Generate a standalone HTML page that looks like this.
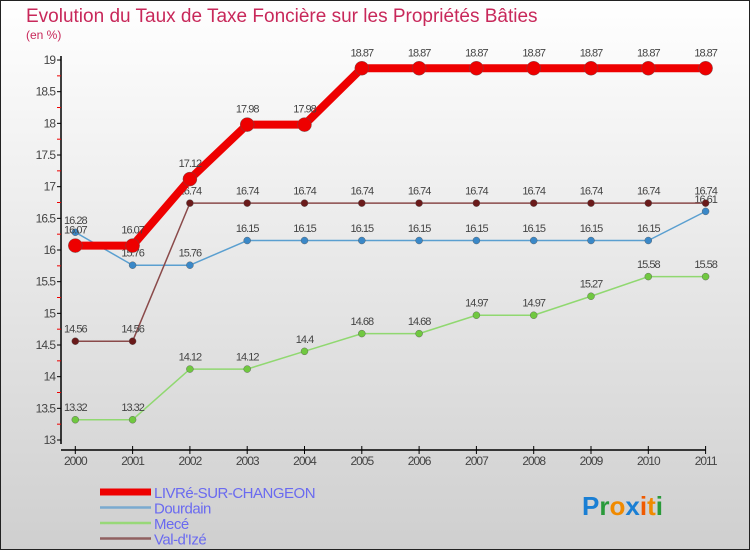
<!DOCTYPE html>
<html><head><meta charset="utf-8"><style>
body{margin:0;width:750px;height:550px;overflow:hidden}
svg{display:block;font-family:"Liberation Sans",sans-serif}
</style></head><body>
<svg id="c" width="750" height="550">
<defs><linearGradient id="bg" x1="0" y1="0" x2="0" y2="1"><stop offset="0" stop-color="#ffffff"/><stop offset="1" stop-color="#cfcfcf"/></linearGradient></defs>
<rect x="0.5" y="0.5" width="749" height="549" fill="url(#bg)" stroke="#222"/>
<text x="26" y="22" font-size="19" fill="#c8285a">Evolution du Taux de Taxe Foncière sur les Propriétés Bâties</text>
<text x="26" y="39" font-size="12" fill="#c8285a">(en %)</text>
<g id="axes"></g><g id="series"></g><g id="legend"></g>
<text x="582" y="515" font-size="26" font-weight="bold"><tspan fill="#1a7fd4">P</tspan><tspan fill="#2a9a3a">r</tspan><tspan fill="#f08a00">o</tspan><tspan fill="#1a7fd4">x</tspan><tspan fill="#f05a00">i</tspan><tspan fill="#f08a00">t</tspan><tspan fill="#2a9a3a">i</tspan></text>
</svg>
<script>
const years=[2000,2001,2002,2003,2004,2005,2006,2007,2008,2009,2010,2011];
const livre=[16.07,16.07,17.12,17.98,17.98,18.87,18.87,18.87,18.87,18.87,18.87,18.87];
const dourdain=[16.28,15.76,15.76,16.15,16.15,16.15,16.15,16.15,16.15,16.15,16.15,16.61];
const mece=[13.32,13.32,14.12,14.12,14.4,14.68,14.68,14.97,14.97,15.27,15.58,15.58];
const valdize=[14.56,14.56,16.74,16.74,16.74,16.74,16.74,16.74,16.74,16.74,16.74,16.74];
const yTicks=[13,13.5,14,14.5,15,15.5,16,16.5,17,17.5,18,18.5,19];
const NS="http://www.w3.org/2000/svg";
const X=i=>75.3+i*57.3;
const Y=v=>440-(v-13)*63.33;
function mk(t,a,p){const e=document.createElementNS(NS,t);for(const k in a)e.setAttribute(k,a[k]);p.appendChild(e);return e;}
const ax=document.getElementById('axes');
let yl=mk('line',{x1:61,y1:56,x2:61,y2:444,stroke:'#000','stroke-width':1.5},ax);


yTicks.forEach(v=>{
 mk('line',{x1:57,y1:Y(v),x2:61,y2:Y(v),stroke:'#000'},ax);
 if(v<19){const m=mk('line',{x1:57,y1:Y(v+0.25),x2:61,y2:Y(v+0.25),stroke:'#e00'},ax);}
 const t=mk('text',{x:55,y:Y(v)+4,'text-anchor':'end','font-size':12,fill:'#444','letter-spacing':'-1'},ax);
 t.textContent=v;
 
 
});
let xl=mk('line',{x1:61,y1:450,x2:706,y2:450,stroke:'#000','stroke-width':1.5},ax);


years.forEach((y,i)=>{
 mk('line',{x1:X(i),y1:446,x2:X(i),y2:454,stroke:'#000'},ax);
 const t=mk('text',{x:X(i),y:465,'text-anchor':'middle','font-size':12,fill:'#444','letter-spacing':'-1'},ax);
 t.textContent=y;
 
 
});
const sg=document.getElementById('series');
const series=[
 {name:'dourdain',d:dourdain,c:'#5a9fd0',w:1.5,r:3.5,f:'#3a88c8'},
 {name:'mece',d:mece,c:'#90d870',w:1.5,r:3.5,f:'#70c840'},
 {name:'val-d-ize',d:valdize,c:'#8a4a4a',w:1.5,r:3.5,f:'#6a1a1a'},
 {name:'livre-sur-changeon',d:livre,c:'#ee0000',w:8,r:7,f:'#ee0000'}
];
series.forEach(s=>{
 const g=mk('g',{},sg);
 
 
 const p=mk('polyline',{points:s.d.map((v,i)=>X(i)+','+Y(v)).join(' '),fill:'none',stroke:s.c,'stroke-width':s.w,'stroke-linejoin':'round'},g);
 
 
 s.d.forEach((v,i)=>{
  const c=mk('circle',{cx:X(i),cy:Y(v),r:s.r,fill:s.f,stroke:'#555','stroke-width':0.4},g);
  
  
  const t=mk('text',{x:X(i),y:Y(v)-(s.r+5),'text-anchor':'middle','font-size':11,fill:'#444','letter-spacing':'-1'},g);
  t.textContent=v;
  
  
 });
});
const lg=document.getElementById('legend');
const leg=[['LIVRé-SUR-CHANGEON','#ee0000',7],['Dourdain','#7aaad0',2.5],['Mecé','#98d878',2.5],["Val-d'Izé",'#906060',2.5]];
leg.forEach((l,i)=>{
 const y=492+i*15.5;
 const g=mk('g',{},lg);
 
 
 mk('line',{x1:100,y1:y,x2:151,y2:y,stroke:l[1],'stroke-width':l[2]},g);
 const t=mk('text',{x:154,y:y+6,'font-size':15,fill:'#6a6af0','letter-spacing':'-0.5'},g);
 t.textContent=l[0];
});
</script>
</body></html>
